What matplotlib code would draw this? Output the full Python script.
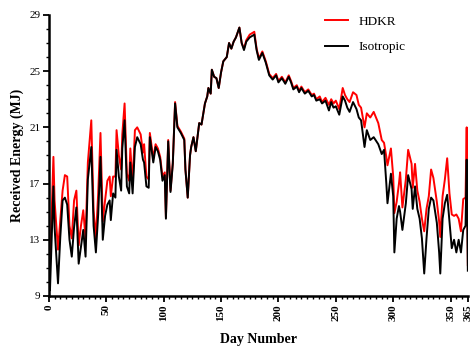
import matplotlib
matplotlib.use("Agg")
import matplotlib.pyplot as plt
from matplotlib.ticker import MultipleLocator

days = [0, 1, 4, 5, 8, 10, 12, 14, 16, 18, 20, 22, 24, 26, 28, 30, 32, 34, 37, 39,
        41, 43, 45, 47, 49, 51, 53, 54, 56, 58, 59, 61, 63, 64, 66, 68, 70, 71, 73, 75,
        77, 80, 82, 83, 85, 87, 88, 91, 93, 95, 97, 99, 101, 102, 104, 106, 108, 110, 112, 115,
        118, 119, 121, 123, 124, 126, 128, 131, 133, 136, 138, 139, 141, 142, 144, 146, 148, 150, 152, 155,
        157, 159, 161, 163, 166, 168, 170, 172, 175, 179, 181, 183, 186, 189, 192, 195, 198, 200, 203, 206,
        209, 211, 213, 216, 218, 220, 223, 226, 229, 231, 233, 236, 238, 241, 244, 246, 248, 250, 253, 256,
        258, 260, 262, 265, 268, 270, 272, 275, 277, 280, 283, 287, 290, 292, 294, 295, 298, 300, 301, 303,
        305, 306, 308, 311, 313, 316, 317, 319, 321, 323, 325, 327, 329, 331, 333, 335, 338, 340, 341, 343,
        345, 347, 349, 351, 353, 355, 357, 359, 361, 363, 364, 365]

hdkr = [12.2, 11.0, 18.9, 15.8, 12.3, 14.4, 16.5, 17.6, 17.5, 14.0, 13.1, 15.8, 16.5, 12.6, 14.0, 15.1, 13.1, 18.5, 21.5, 15.1,
        13.1, 16.3, 20.6, 14.3, 15.8, 17.2, 17.5, 16.1, 17.5, 17.5, 20.8, 19.0, 18.0, 20.5, 22.7, 17.7, 17.2, 19.5, 17.0, 20.8,
        21.0, 20.5, 19.2, 19.8, 17.5, 17.3, 20.6, 18.8, 19.8, 19.5, 18.9, 17.5, 17.8, 14.6, 20.1, 16.5, 18.5, 22.8, 21.1, 20.7,
        20.2, 18.0, 16.0, 19.0, 19.6, 20.3, 19.3, 21.3, 21.2, 22.7, 23.2, 23.8, 23.4, 25.1, 24.6, 24.5, 23.8, 24.9, 25.7, 26.0,
        27.0, 26.6, 27.1, 27.4, 28.1, 27.0, 26.6, 27.2, 27.6, 27.8, 26.6, 25.9, 26.4, 25.7, 24.8, 24.5, 24.8, 24.3, 24.6, 24.2,
        24.7, 24.3, 23.8, 24.0, 23.6, 23.9, 23.5, 23.7, 23.3, 23.4, 23.0, 23.2, 22.8, 23.1, 22.6, 23.0, 22.7, 22.9, 22.3, 23.8,
        23.3, 23.0, 22.8, 23.5, 23.3, 22.6, 22.4, 21.0, 22.0, 21.7, 22.1, 21.3, 20.1, 19.9, 18.9, 18.3, 19.5, 17.5, 14.9, 15.7,
        17.0, 17.8, 15.3, 17.3, 19.4, 18.4, 16.7, 18.4, 16.5, 15.7, 14.5, 13.6, 15.2, 16.1, 18.0, 17.4, 15.7, 14.3, 13.2, 16.1,
        17.3, 18.8, 16.3, 14.8, 14.7, 14.8, 14.5, 13.6, 15.9, 16.0, 21.0, 11.2]

iso = [10.8, 9.4, 16.8, 13.9, 9.9, 13.2, 15.8, 16.0, 15.5, 13.0, 11.8, 13.9, 15.3, 11.3, 12.5, 13.7, 11.8, 17.3, 19.6, 14.0,
       12.1, 14.8, 18.9, 13.0, 14.7, 15.5, 15.8, 14.4, 16.3, 16.0, 19.4, 17.5, 16.5, 19.5, 21.5, 16.8, 16.3, 18.5, 16.3, 19.6,
       20.3, 19.8, 18.7, 18.5, 16.8, 16.7, 20.3, 18.5, 19.6, 19.3, 18.7, 17.2, 17.6, 14.5, 20.0, 16.4, 18.4, 22.7, 21.0, 20.6,
       20.1, 18.0, 16.0, 19.0, 19.6, 20.3, 19.3, 21.3, 21.2, 22.7, 23.2, 23.8, 23.4, 25.1, 24.6, 24.5, 23.8, 24.9, 25.7, 26.0,
       27.0, 26.6, 27.1, 27.4, 28.1, 27.0, 26.5, 27.1, 27.4, 27.6, 26.5, 25.8, 26.3, 25.6, 24.7, 24.4, 24.7, 24.2, 24.5, 24.1,
       24.6, 24.2, 23.7, 23.9, 23.5, 23.8, 23.4, 23.6, 23.2, 23.3, 22.9, 23.0, 22.7, 22.9, 22.2, 22.8, 22.4, 22.5, 21.9, 23.2,
       22.9, 22.4, 22.1, 22.8, 22.3, 21.7, 21.5, 19.6, 20.8, 20.1, 20.3, 19.8, 19.1, 19.4, 17.0, 15.6, 17.7, 16.1, 12.1, 14.5,
       15.4, 15.0, 13.7, 15.6, 17.6, 16.6, 15.2, 16.8, 15.2, 14.5, 13.1, 10.6, 13.1, 15.2, 16.0, 15.8, 14.2, 12.1, 10.6, 14.5,
       15.6, 16.2, 14.3, 12.4, 13.0, 12.1, 13.0, 12.1, 13.7, 14.0, 18.7, 10.8]

xticks = [0, 50, 100, 150, 200, 250, 300, 350, 365]
yticks = [9, 13, 17, 21, 25, 29]

plt.rcParams['font.family'] = ['Liberation Serif', 'DejaVu Serif']

fig = plt.figure(figsize=(4.74, 3.47), dpi=100)
ax = fig.add_axes([0.103, 0.147, 0.884, 0.81])

# primero la roja, la negra encima
ax.plot(days, hdkr, color='#ff0000', linewidth=1.4, label='HDKR')
ax.plot(days, iso, color='black', linewidth=1.4, label='Isotropic')

ax.set_xlim(0, 365)
ax.set_ylim(9, 29)
ax.set_xticks(xticks)
ax.set_yticks(yticks)
ax.xaxis.set_minor_locator(MultipleLocator(5))
ax.yaxis.set_minor_locator(MultipleLocator(1))
ax.set_xticklabels([str(t) for t in xticks], rotation=90, fontweight='bold', fontsize=8)
ax.set_yticklabels([str(t) for t in yticks], fontsize=8)

for s in ['top', 'right']:
    ax.spines[s].set_visible(False)
for s in ['left', 'bottom']:
    ax.spines[s].set_linewidth(1.8)
ax.tick_params(which='major', length=4, width=1.3, pad=2)
ax.tick_params(which='minor', length=2.5, width=1.0)

ax.set_xlabel('Day Number', fontsize=10, fontweight='bold', labelpad=9)
ax.set_ylabel('Received Energy (MJ)', fontsize=10, fontweight='bold', labelpad=4)

ax.legend(loc='upper left', bbox_to_anchor=(0.63, 1.04), frameon=False, fontsize=9.5,
          handlelength=1.8, labelspacing=1.0, handletextpad=0.8)

fig.savefig('out.png', dpi=100)
